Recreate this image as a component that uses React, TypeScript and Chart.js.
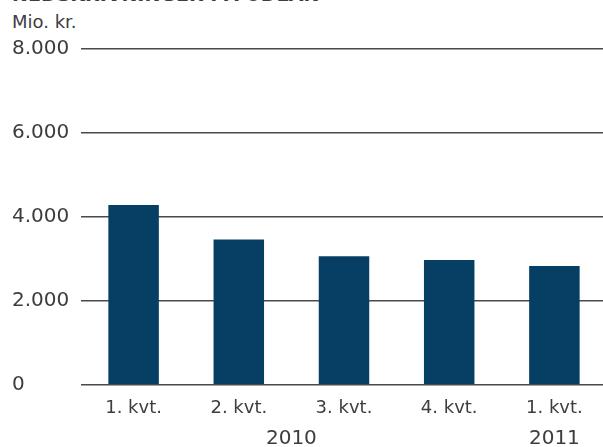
import React, { useEffect, useRef } from "react";
import { Chart, registerables } from "chart.js";

Chart.register(...registerables);

const quarterLabels = ["1. kvt.", "2. kvt.", "3. kvt.", "4. kvt.", "1. kvt."];
const impairments = [4280, 3460, 3060, 2970, 2830];
const yearLabels = ["2010", "2011"];
const quartersPerYear = [4, 1];
const yTickValues = [0, 2000, 4000, 6000, 8000];

const titleText = "NEDSKRIVNINGER PÅ UDLÅN";
const unitText = "Mio. kr.";

const FONT = "'DejaVu Sans', sans-serif";
const TEXT = "#3d3d3d";
const BAR = "#063f63";

function yearCenters(): number[] {
  const out: number[] = [];
  let start = 0;
  for (const n of quartersPerYear) {
    out.push(start + (n - 1) / 2);
    start += n;
  }
  return out;
}

function fmt(v: number): string {
  return String(v).replace(/\B(?=(\d{3})+(?!\d))/g, ".");
}

export default function App() {
  const ref = useRef<HTMLCanvasElement | null>(null);

  useEffect(() => {
    if (!ref.current) return;
    const centers = yearCenters();
    const chart = new Chart(ref.current, {
      type: "bar",
      data: {
        labels: quarterLabels,
        datasets: [
          {
            data: impairments,
            backgroundColor: BAR,
            borderWidth: 0,
            barPercentage: 0.48,
            categoryPercentage: 1,
            xAxisID: "x",
          },
        ],
      },
      options: {
        animation: false,
        responsive: true,
        maintainAspectRatio: false,
        layout: { padding: { left: 12, top: 49, right: 0, bottom: 0 } },
        plugins: {
          legend: { display: false },
          tooltip: { enabled: false },
          title: { display: false },
        },
        scales: {
          x: {
            type: "category",
            position: "bottom",
            weight: 0,
            offset: true,
            grid: { display: false, drawTicks: false },
            border: { display: false },
            ticks: {
              color: TEXT,
              font: { family: FONT, size: 18 },
              padding: 13,
              maxRotation: 0,
              autoSkip: false,
            },
            afterFit: (s: any) => {
              s.height = 30;
              s.paddingLeft = 0;
              s.paddingRight = 0;
            },
          },
          x2: {
            type: "linear",
            position: "bottom",
            weight: 1,
            min: -0.5,
            max: quarterLabels.length - 0.5,
            bounds: "data",
            offset: false,
            grid: { display: false, drawTicks: false },
            border: { display: false },
            ticks: {
              stepSize: 0.5,
              color: TEXT,
              font: { family: FONT, size: 20 },
              padding: 12,
              maxRotation: 0,
              autoSkip: false,
              callback: (v: any) => {
                const i = centers.indexOf(Number(v));
                return i >= 0 ? yearLabels[i] : "";
              },
            },
            afterFit: (s: any) => {
              s.height = 447 - 384.7 - 30;
              s.paddingLeft = 0;
              s.paddingRight = 0;
            },
          },
          y: {
            min: 0,
            max: 8000,
            afterBuildTicks: (s: any) => {
              s.ticks = yTickValues.map((v) => ({ value: v }));
            },
            grid: { color: "#4a4a4a", lineWidth: 1.5, drawTicks: false },
            border: { display: false },
            ticks: {
              color: TEXT,
              font: { family: FONT, size: 20 },
              crossAlign: "far",
              callback: (v: any) => fmt(Number(v)),
            },
            afterFit: (s: any) => {
              s.width = 69;
            },
          },
        },
      },
    });
    return () => chart.destroy();
  }, []);

  return (
    <div
      style={{
        position: "fixed",
        left: 0,
        top: 0,
        width: 603,
        height: 447,
        overflow: "hidden",
        background: "#fff",
      }}
    >
      <div
        style={{
          position: "absolute",
          left: 12,
          top: -15,
          fontFamily: FONT,
          fontSize: 19,
          fontWeight: "bold",
          lineHeight: "19px",
          color: TEXT,
          whiteSpace: "nowrap",
        }}
      >
        {titleText}
      </div>
      <div
        style={{
          position: "absolute",
          left: 12,
          top: 13,
          fontFamily: FONT,
          fontSize: 18,
          lineHeight: "18px",
          color: TEXT,
          whiteSpace: "nowrap",
        }}
      >
        {unitText}
      </div>
      <div style={{ position: "absolute", left: 0, top: 0, width: 607, height: 447 }}>
        <canvas ref={ref} />
      </div>
    </div>
  );
}
